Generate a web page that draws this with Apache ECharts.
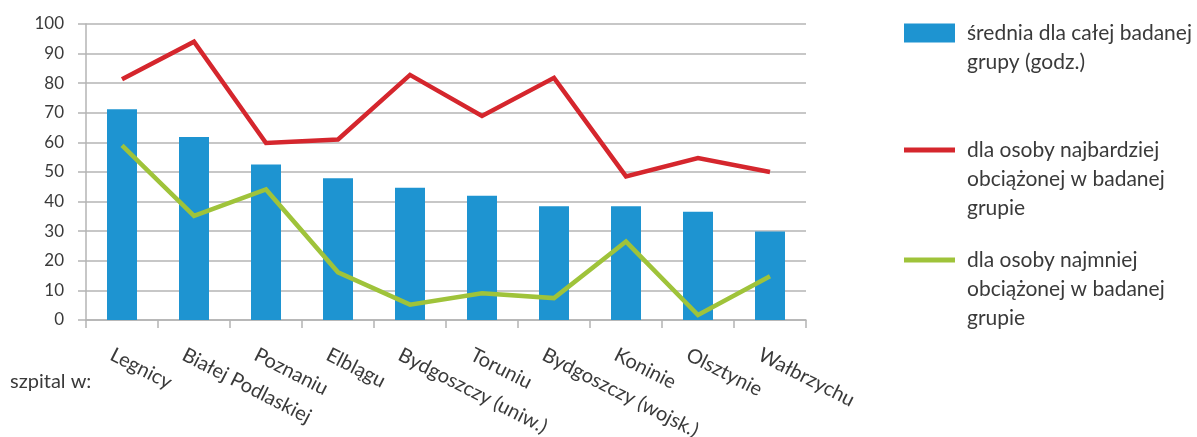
<!DOCTYPE html>
<html>
<head>
<meta charset="utf-8">
<script src="https://cdn.jsdelivr.net/npm/echarts@6/dist/echarts.min.js"></script>
<style>
  html, body { margin: 0; padding: 0; background: #ffffff; }
  #chart { width: 1197px; height: 437px; }
</style>
</head>
<body>
<div id="chart"></div>
<script>
// Hospitals (town names in the locative case)
const categories = ['Legnicy', 'Białej Podlaskiej', 'Poznaniu', 'Elblągu', 'Bydgoszczy (uniw.)',
  'Toruniu', 'Bydgoszczy (wojsk.)', 'Koninie', 'Olsztynie', 'Wałbrzychu'];

// Hours: group average, most loaded person, least loaded person
const groupAverage = [71.2, 61.8, 52.5, 47.9, 44.7, 42.0, 38.4, 38.4, 36.6, 29.9];
const mostLoaded   = [81.3, 94.0, 59.8, 61.0, 82.8, 68.9, 81.8, 48.5, 54.7, 50.0];
const leastLoaded  = [59.0, 35.2, 44.1, 16.1, 5.2, 9.0, 7.4, 26.5, 1.7, 14.8];

const seriesNames = [
  'średnia dla całej badanej\ngrupy (godz.)',
  'dla osoby najbardziej\nobciążonej w badanej\ngrupie',
  'dla osoby najmniej\nobciążonej w badanej\ngrupie'
];

const yTicks = { min: 0, max: 100, interval: 10 };

const FONT = 'Lato, "Open Sans", sans-serif';
const TEXT = '#3a3a3a';
const GRID = '#b4b4b4';
const BLUE = '#1e94d1';
const RED = '#d5262d';
const GREEN = '#9fc33a';

const LH = 29; // legend line height
const X_LABEL_LH = 46; // tall line box pushes rotated category labels down-left

// Each legend block: leading blank lines keep the icon level with the first text line
function legendBlock(name, iconCenterY, iconH) {
  const lines = name.split('\n').length;
  return {
    data: [{ name: name, icon: 'rect' }],
    left: 904,
    top: iconCenterY - (2 * lines - 1) * LH / 2,
    padding: 0,
    itemWidth: 51,
    itemHeight: iconH,
    selectedMode: false,
    formatter: n => '\n'.repeat(lines - 1) + n,
    textStyle: {
      fontFamily: FONT,
      fontSize: 21,
      color: TEXT,
      lineHeight: LH,
      padding: [0, 0, 0, 7]
    }
  };
}

const chart = echarts.init(document.getElementById('chart'), null, { renderer: 'canvas' });

chart.setOption({
  animation: false,
  backgroundColor: '#ffffff',
  grid: { left: 86, right: 391, top: 24, bottom: 117, containLabel: false, outerBoundsMode: 'none' },
  legend: [
    legendBlock(seriesNames[0], 33, 19),
    legendBlock(seriesNames[1], 150, 5),
    legendBlock(seriesNames[2], 260, 5)
  ],
  graphic: [{
    type: 'text',
    left: 10,
    top: 372,
    style: { text: 'szpital w:', fontFamily: FONT, fontSize: 20, fill: TEXT }
  }],
  xAxis: {
    type: 'category',
    data: categories,
    boundaryGap: true,
    axisLine: { show: true, lineStyle: { color: GRID, width: 1.5 } },
    axisTick: { show: true, length: 8, lineStyle: { color: GRID, width: 1.5 } },
    axisLabel: {
      interval: 0,
      rotate: -27,
      margin: 13,
      fontFamily: FONT,
      fontSize: 20,
      color: TEXT,
      lineHeight: X_LABEL_LH,
      formatter: v => '\n' + v
    },
    splitLine: { show: false }
  },
  yAxis: {
    type: 'value',
    min: yTicks.min,
    max: yTicks.max,
    interval: yTicks.interval,
    axisLine: { show: true, lineStyle: { color: GRID, width: 1.5 } },
    axisTick: { show: true, length: 8, lineStyle: { color: GRID, width: 1.5 } },
    axisLabel: { margin: 22, fontFamily: FONT, fontSize: 17, color: TEXT },
    splitLine: { show: true, lineStyle: { color: GRID, width: 1.5 } }
  },
  series: [
    {
      name: seriesNames[0],
      type: 'bar',
      data: groupAverage,
      barWidth: 30,
      itemStyle: { color: BLUE }
    },
    {
      name: seriesNames[1],
      type: 'line',
      data: mostLoaded,
      symbol: 'none',
      lineStyle: { color: RED, width: 4.5, join: 'miter' },
      itemStyle: { color: RED }
    },
    {
      name: seriesNames[2],
      type: 'line',
      data: leastLoaded,
      symbol: 'none',
      lineStyle: { color: GREEN, width: 4.5, join: 'miter' },
      itemStyle: { color: GREEN }
    }
  ]
});
</script>
</body>
</html>
